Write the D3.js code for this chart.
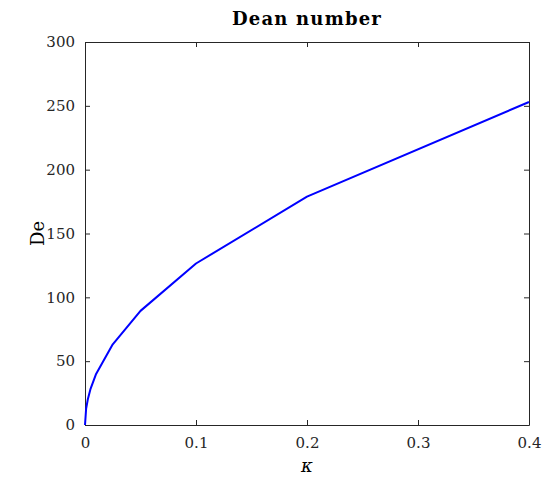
<!DOCTYPE html>
<html><head><meta charset="utf-8">
<script src="https://cdn.jsdelivr.net/npm/d3@7"></script>
<style>body{margin:0;background:#fff}svg{display:block}</style>
</head><body>
<script>
const kappa = [0, 0.001, 0.0025, 0.005, 0.01, 0.025, 0.05, 0.1, 0.2, 0.4];
const dean  = [0, 12.6, 20, 28.3, 40, 63.2, 89.4, 126.5, 178.9, 253];
const xTicks = [0, 0.1, 0.2, 0.3, 0.4];
const yTicks = [0, 50, 100, 150, 200, 250, 300];
const title = "Dean number", xLabel = "κ", yLabel = "De";

const W = 546, H = 490;
const m = {l: 85, r: 17, t: 42, b: 65};
const font = "'DejaVu Serif', serif";
const svg = d3.select("body").append("svg").attr("width", W).attr("height", H);
const x = d3.scaleLinear().domain([0, 0.4]).range([m.l, W - m.r]);
const y = d3.scaleLinear().domain([0, 300]).range([H - m.b, m.t]);
const ax = "#262626";

function fmt(d){ return d === 0 ? "0" : String(d); }
const gx = svg.append("g").attr("transform", `translate(0,${H - m.b})`)
  .call(d3.axisBottom(x).tickValues(xTicks).tickFormat(fmt).tickSizeInner(-5).tickSizeOuter(0).tickPadding(12));
const gxt = svg.append("g").attr("transform", `translate(0,${m.t})`)
  .call(d3.axisTop(x).tickValues(xTicks).tickFormat("").tickSizeInner(-5).tickSizeOuter(0));
const gy = svg.append("g").attr("transform", `translate(${m.l},0)`)
  .call(d3.axisLeft(y).tickValues(yTicks).tickFormat(fmt).tickSizeInner(-5).tickSizeOuter(0).tickPadding(10));
const gyr = svg.append("g").attr("transform", `translate(${W - m.r},0)`)
  .call(d3.axisRight(y).tickValues(yTicks).tickFormat("").tickSizeInner(-5).tickSizeOuter(0));
[gx, gxt, gy, gyr].forEach(g => {
  g.selectAll("path").attr("stroke", ax).attr("stroke-width", 1);
  g.selectAll("line").attr("stroke", ax).attr("stroke-width", 1);
  g.selectAll("text").attr("fill", "#262626").style("font-family", font).style("font-size", "15px");
});

svg.append("path").datum(kappa.map((k, i) => [k, dean[i]]))
  .attr("fill", "none").attr("stroke", "#0000ff").attr("stroke-width", 2)
  .attr("stroke-linejoin", "round")
  .attr("d", d3.line().x(d => x(d[0])).y(d => y(d[1])));

svg.append("text").attr("x", (m.l + W - m.r) / 2).attr("y", 25).attr("text-anchor", "middle")
  .style("font-family", font).style("font-size", "18px").style("font-weight", "bold")
  .style("letter-spacing", "1.2px").text(title);
svg.append("text").attr("x", (m.l + W - m.r) / 2).attr("y", 472).attr("text-anchor", "middle")
  .style("font-family", font).style("font-size", "18px").style("font-style", "italic").text(xLabel);
svg.append("text").attr("transform", `translate(44,${(m.t + H - m.b) / 2}) rotate(-90)`).attr("text-anchor", "middle")
  .style("font-family", font).style("font-size", "18px").text(yLabel);
</script>
</body></html>
